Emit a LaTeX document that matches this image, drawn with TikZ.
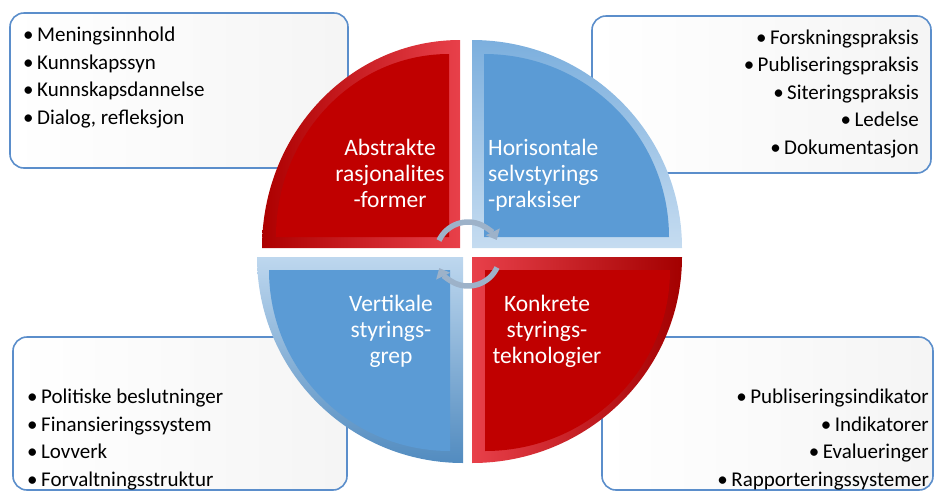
\documentclass[tikz,border=0pt]{standalone}
\usepackage{fontspec}
\setmainfont{Carlito}
\usetikzlibrary{arrows.meta}

\definecolor{kvred}{HTML}{C00000}
\definecolor{kvredlight}{HTML}{E8404A}
\definecolor{kvblue}{HTML}{5B9BD5}
\definecolor{boxline}{HTML}{5B8ECB}
\definecolor{cyclegray}{HTML}{9DB2C9}

\tikzset{
  listbox/.style={draw=boxline, line width=1.6pt, rounded corners=14pt,
    left color=white, right color=black!4, inner sep=0pt},
  items/.style={inner sep=0pt, font=\fontsize{21}{27.4}\selectfont},
  quadtext/.style={inner sep=0pt, text=white, font=\fontsize{23.5}{26}\selectfont},
  rim/.style={draw=black!35, line width=0.5pt},
  cyclearrow/.style={cyclegray, line width=5.5pt, -{Triangle[length=9pt,width=15pt]}}
}

\begin{document}
\begin{tikzpicture}[x=1pt,y=-1pt]
  \useasboundingbox (0,0) rectangle (935,491);

  \node[listbox, minimum width=338pt, minimum height=155pt] (meningbox) at (179,90.5) {};
  \node[listbox, minimum width=339pt, minimum height=157pt] (praksisbox) at (761.5,94.5) {};
  \node[listbox, minimum width=334pt, minimum height=153pt] (vedtakbox) at (180,413.5) {};
  \node[listbox, minimum width=331pt, minimum height=153pt] (indikbox) at (767.5,413.5) {};

  \begin{scope}[rim]
    \path[left color=kvred!90!black, right color=kvredlight]
      (460,248) -- (262,248) arc[start angle=180,end angle=270,x radius=198,y radius=208] -- cycle;
    \path[top color=kvblue!80!white, bottom color=kvblue!35!white]
      (472,248) -- (472,40) arc[start angle=270,end angle=360,x radius=210,y radius=208] -- cycle;
    \path[left color=kvredlight, right color=kvred!85!black]
      (472,257) -- (682,257) arc[start angle=0,end angle=90,x radius=210,y radius=206] -- cycle;
    \path[top color=kvblue!40!white, bottom color=kvblue!90!black]
      (463,257) -- (463,463) arc[start angle=90,end angle=180,x radius=206,y radius=206] -- cycle;
  \end{scope}

  \fill[kvred] (449,237) -- (276,237) arc[start angle=180,end angle=270,x radius=173,y radius=183] -- cycle;
  \fill[kvblue] (484,237) -- (484,54) arc[start angle=270,end angle=360,x radius=185,y radius=183] -- cycle;
  \fill[kvred] (485,270) -- (670,270) arc[start angle=0,end angle=90,x radius=185,y radius=181] -- cycle;
  \fill[kvblue] (450,270) -- (450,451) arc[start angle=90,end angle=180,x radius=181,y radius=181] -- cycle;

  \node[quadtext, align=center, anchor=base] (abstrakt) at (390,207)
    {Abstrakte\\rasjonalites\\-former};
  \node[quadtext, align=left, anchor=base west] (horisontal) at (488,207)
    {Horisontale\\selvstyrings\\-praksiser};
  \node[quadtext, align=center, anchor=base] (vertikal) at (391,363)
    {Vertikale\\styrings-\\grep};
  \node[quadtext, align=center, anchor=base] (konkret) at (547,363)
    {Konkrete\\styrings-\\teknologier};

  \node[items, align=left, anchor=base west] (meningtxt) at (23,124)
    {•\,Meningsinnhold\\•\,Kunnskapssyn\\•\,Kunnskapsdannelse\\•\,Dialog, refleksjon};
  \node[items, align=right, anchor=base east] (praksistxt) at (919,154)
    {•\,Forskningspraksis\\•\,Publiseringspraksis\\•\,Siteringspraksis\\•\,Ledelse\\•\,Dokumentasjon};
  \node[items, align=left, anchor=base west] (vedtaktxt) at (27,486)
    {•\,Politiske beslutninger\\•\,Finansieringssystem\\•\,Lovverk\\•\,Forvaltningsstruktur};
  \node[items, align=right, anchor=base east] (indiktxt) at (929,486)
    {•\,Publiseringsindikator\\•\,Indikatorer\\•\,Evalueringer\\•\,Rapporteringssystemer};

  \draw[cyclearrow] (468,254) ++(205:32) arc[start angle=205,end angle=334,radius=32];
  \draw[cyclearrow] (468,254) ++(25:32) arc[start angle=25,end angle=154,radius=32];
\end{tikzpicture}
\end{document}
